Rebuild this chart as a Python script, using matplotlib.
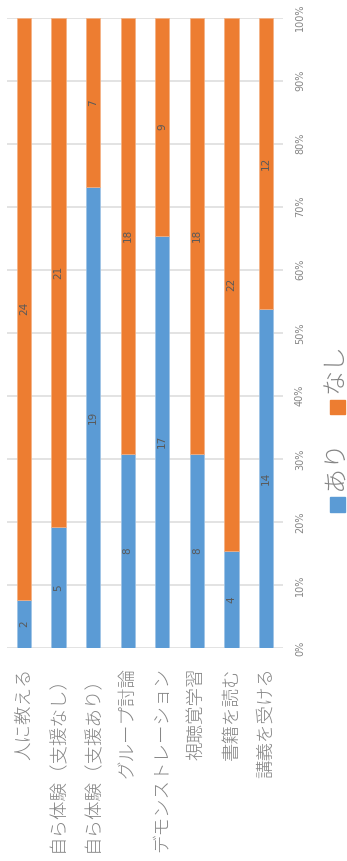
import matplotlib
matplotlib.use("Agg")
import matplotlib.pyplot as plt
from matplotlib.patches import Rectangle
import numpy as np

plt.rcParams['font.family'] = ['Noto Sans CJK JP', 'DejaVu Sans']

categories = ["人に教える", "自ら体験（支援なし）", "自ら体験（支援あり）", "グループ討論",
              "デモンストレーション", "視聴覚学習", "書籍を読む", "講義を受ける"]
ari = [2, 5, 19, 8, 17, 8, 4, 14]
nashi = [24, 21, 7, 18, 9, 18, 22, 12]
series_names = ["あり", "なし"]
pct_ticks = [0, 10, 20, 30, 40, 50, 60, 70, 80, 90, 100]

BLUE = "#5B9BD5"
ORANGE = "#ED7D31"
GRID = "#DEDEDE"
TXT = "#858585"
LBL = "#595959"

W, H = 347, 861
fig = plt.figure(figsize=(W / 100, H / 100), dpi=100)
ax = fig.add_axes([6.7 / W, 1 - 648 / H, (283.3 - 6.7) / W, (648 - 17.5) / H])

a = np.array(ari, float)
n = np.array(nashi, float)
tot = a + n
pa = a / tot * 100
pn = n / tot * 100
x = np.arange(len(categories))
bw = 0.41

ax.bar(x, pa, width=bw, color=BLUE, edgecolor="#9DC3E6", linewidth=0.5, zorder=3)
ax.bar(x, pn, bottom=pa, width=bw, color=ORANGE, edgecolor="#F4B183", linewidth=0.5, zorder=3)

for xi, v1, v2, p1, p2 in zip(x, ari, nashi, pa, pn):
    ax.text(xi, p1 / 2, str(v1), rotation=90, ha="center", va="center",
            fontsize=7.5, color=LBL, family="DejaVu Sans", zorder=4)
    ax.text(xi, p1 + p2 / 2, str(v2), rotation=90, ha="center", va="center",
            fontsize=7.5, color=LBL, family="DejaVu Sans", zorder=4)

ax.set_xlim(-0.5, len(categories) - 0.5)
ax.set_ylim(0, 100)
for t in pct_ticks:
    ax.axhline(t, color=GRID, linewidth=1.2, zorder=1)
for s in ax.spines.values():
    s.set_visible(False)
ax.set_xticks([])
ax.set_yticks([])

# value axis labels on the right side
for t in pct_ticks:
    ax.text(300 / W, ax.transData.transform((0, t))[1] / fig.bbox.height, f"{t}%",
            transform=fig.transFigure, rotation=90, ha="center", va="center",
            fontsize=7, color=TXT, family="DejaVu Sans")

# category labels under the bars
for xi, c in zip(x, categories):
    xf = fig.transFigure.inverted().transform(ax.transData.transform((xi, 0)))[0]
    fig.text(xf, 1 - 667 / H, c, rotation=90, ha="center", va="top",
             fontsize=13.3, color=TXT, fontweight="light")

# legend
sq = 15
fig.patches.append(Rectangle((329.5 / W, 1 - 512 / H), sq / W, sq / H,
                             transform=fig.transFigure, color=BLUE))
fig.patches.append(Rectangle((329.5 / W, 1 - 414.5 / H), sq / W, sq / H,
                             transform=fig.transFigure, color=ORANGE))
fig.text(334 / W, 1 - 465 / H, series_names[0], rotation=90, ha="center", va="center",
         fontsize=18, color=TXT, fontweight="light")
fig.text(334 / W, 1 - 368 / H, series_names[1], rotation=90, ha="center", va="center",
         fontsize=18, color=TXT, fontweight="light")

fig.savefig("out.png", dpi=100, facecolor="white")
